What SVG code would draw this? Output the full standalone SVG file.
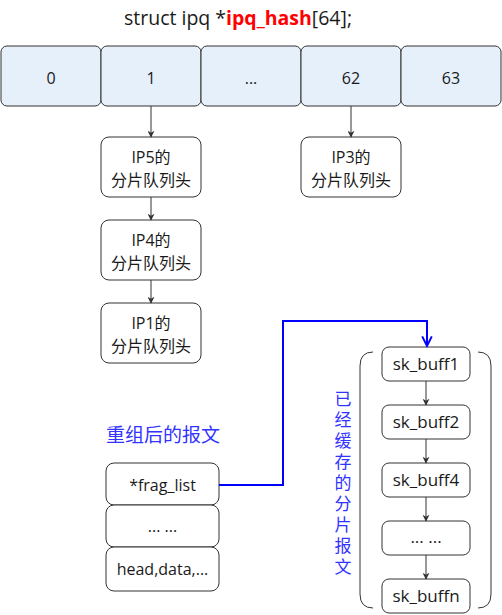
<svg xmlns="http://www.w3.org/2000/svg" width="502" height="615" viewBox="0 0 502 615">
<defs>
<style>
text{font-family:"Open Sans","Noto Sans CJK SC",sans-serif;fill:#1a1a1a;text-anchor:middle;}
.cell{fill:#e6f0fb;stroke:#333;stroke-width:1;}
.box{fill:#fff;stroke:#333;stroke-width:1;}
.t14{font-size:16px;}
.t16{font-size:17px;}
.edge{stroke:#333;stroke-width:1;fill:none;marker-end:url(#ah);}
.blue{fill:#3333ff;}
</style>
<marker id="ah" viewBox="0 0 10 10" refX="9" refY="5" markerWidth="7" markerHeight="7" markerUnits="userSpaceOnUse" orient="auto">
<path d="M0,0 L10,5 L0,10 L3,5 z" fill="#333"/>
</marker>
<marker id="ahb" viewBox="0 0 10 10" refX="9" refY="5" markerWidth="14" markerHeight="12" markerUnits="userSpaceOnUse" orient="auto">
<path d="M1,1 L9,5 L1,9" fill="none" stroke="#0000ff" stroke-width="1.6"/>
</marker>
</defs>
<text x="238" y="25" style="font-size:19.5px;text-anchor:middle">struct ipq *<tspan style="fill:#ff0000;font-weight:bold">ipq_hash</tspan>[64];</text>
<g id="array">
<g id="cell0"><rect class="cell" x="1" y="46" width="100" height="60" rx="6"/><text class="t14" x="51" y="84">0</text></g>
<g id="cell1"><rect class="cell" x="101" y="46" width="100" height="60" rx="6"/><text class="t14" x="151" y="84">1</text></g>
<g id="cellx"><rect class="cell" x="201" y="46" width="100" height="60" rx="6"/><text class="t14" x="251" y="84">...</text></g>
<g id="cell62"><rect class="cell" x="301" y="46" width="100" height="60" rx="6"/><text class="t14" x="351" y="84">62</text></g>
<g id="cell63"><rect class="cell" x="401" y="46" width="100" height="60" rx="6"/><text class="t14" x="451" y="84">63</text></g>
</g>
<g id="ip5"><rect class="box" x="101" y="137" width="100" height="60" rx="8"/><text class="t14" x="151" y="163">IP5的</text><text class="t14" x="151" y="186">分片队列头</text></g>
<g id="ip4"><rect class="box" x="101" y="220" width="100" height="60" rx="8"/><text class="t14" x="151" y="246">IP4的</text><text class="t14" x="151" y="269">分片队列头</text></g>
<g id="ip1"><rect class="box" x="101" y="303" width="100" height="60" rx="8"/><text class="t14" x="151" y="329">IP1的</text><text class="t14" x="151" y="352">分片队列头</text></g>
<g id="ip3"><rect class="box" x="301" y="137" width="100" height="60" rx="8"/><text class="t14" x="351" y="163">IP3的</text><text class="t14" x="351" y="186">分片队列头</text></g>
<text class="blue" x="163" y="442" style="font-size:19px">重组后的报文</text>
<g id="frag"><rect class="box" x="106" y="463" width="113" height="42" rx="8"/><text class="t14" x="162.5" y="491">*frag_list</text></g>
<g id="dots1"><rect class="box" x="106" y="505" width="113" height="42" rx="8"/><text class="t14" x="162.5" y="532">... ...</text></g>
<g id="head"><rect class="box" x="106" y="547" width="113" height="44" rx="8"/><text class="t14" x="162.5" y="575">head,data,...</text></g>
<g id="bracket">
<path d="M373,352 Q360,352 360,366 L360,594 Q360,608 373,608" fill="none" stroke="#333" stroke-width="1"/>
<path d="M478,352 Q491,352 491,366 L491,594 Q491,608 478,608" fill="none" stroke="#333" stroke-width="1"/>
</g>
<g id="vlabel" class="blue">
<text class="t16 blue" x="343" y="405">已</text>
<text class="t16 blue" x="343" y="426">经</text>
<text class="t16 blue" x="343" y="447">缓</text>
<text class="t16 blue" x="343" y="468">存</text>
<text class="t16 blue" x="343" y="489">的</text>
<text class="t16 blue" x="343" y="510">分</text>
<text class="t16 blue" x="343" y="531">片</text>
<text class="t16 blue" x="343" y="552">报</text>
<text class="t16 blue" x="343" y="573">文</text>
</g>
<g id="skb1"><rect class="box" x="382" y="347" width="88" height="34" rx="7"/><text class="t16" x="426" y="370">sk_buff1</text></g>
<g id="skb2"><rect class="box" x="382" y="405" width="88" height="34" rx="7"/><text class="t16" x="426" y="428">sk_buff2</text></g>
<g id="skb4"><rect class="box" x="382" y="463" width="88" height="34" rx="7"/><text class="t16" x="426" y="486">sk_buff4</text></g>
<g id="skbx"><rect class="box" x="382" y="521" width="88" height="34" rx="7"/><text class="t16" x="426" y="543">... ...</text></g>
<g id="skbn"><rect class="box" x="382" y="579" width="88" height="34" rx="7"/><text class="t16" x="426" y="602">sk_buffn</text></g>
<g id="connectors">
<path class="edge" d="M151,106 L151,137"/>
<path class="edge" d="M351,106 L351,137"/>
<path class="edge" d="M151,197 L151,220"/>
<path class="edge" d="M151,280 L151,303"/>
<path class="edge" d="M426,381 L426,405"/>
<path class="edge" d="M426,439 L426,463"/>
<path class="edge" d="M426,497 L426,521"/>
<path class="edge" d="M426,555 L426,579"/>
<path d="M219,485 L283,485 L283,321 L427,321 L427,346" fill="none" stroke="#0000ff" stroke-width="2" marker-end="url(#ahb)"/>
</g>
</svg>
